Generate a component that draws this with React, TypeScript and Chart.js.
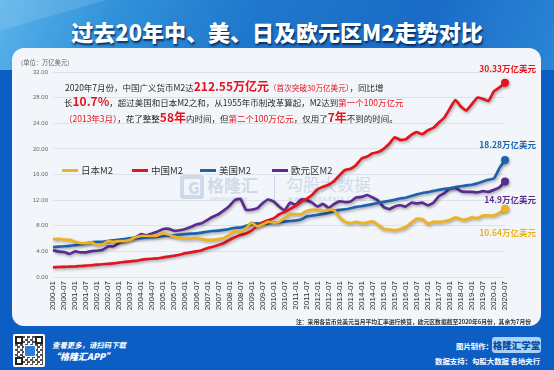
import React, { useEffect, useRef } from 'react';
import { Chart, registerables } from 'chart.js';

Chart.register(...registerables);

// ---------- data (quarterly, trillions of USD) ----------
const quarterMonths = ['01', '04', '07', '10'];
const categories: string[] = [];
for (let y = 2000; y <= 2020; y++) {
  for (const m of quarterMonths) {
    if (y === 2020 && m === '10') continue;
    categories.push(`${y}-${m}`);
  }
}

const seriesNames = ['日本M2', '中国M2', '美国M2', '欧元区M2'];

const japanM2 = [
  5.9, 5.95, 5.85, 5.8,
  5.5, 5.3, 5.3, 5.4,
  5.0, 5.1, 5.6, 5.5,
  5.6, 5.6, 5.8, 6.2,
  6.4, 6.4, 6.4, 6.5,
  6.8, 6.6, 6.3, 6.1,
  6.0, 6.0, 6.1, 5.9,
  5.8, 5.8, 5.9, 6.1,
  6.6, 7.2, 7.0, 7.6,
  8.5, 7.9, 8.2, 8.6,
  8.5, 8.6, 9.2, 9.8,
  9.8, 9.8, 10.3, 10.5,
  10.5, 10.3, 10.5, 10.4,
  9.3, 8.6, 8.4, 8.6,
  8.4, 8.5, 8.7, 8.1,
  7.5, 7.4, 7.3, 7.5,
  7.8, 8.5, 9.1, 9.0,
  8.3, 8.6, 8.6, 8.7,
  8.9, 9.3, 9.0, 9.0,
  9.3, 9.2, 9.6, 9.6,
  9.6, 10.0, 10.64,
];

const chinaM2 = [
  1.51, 1.56, 1.59, 1.61,
  1.64, 1.72, 1.78, 1.83,
  1.92, 1.99, 2.06, 2.14,
  2.24, 2.37, 2.45, 2.52,
  2.67, 2.78, 2.85, 2.91,
  3.07, 3.18, 3.32, 3.47,
  3.72, 3.85, 4.0, 4.18,
  4.5, 4.73, 5.0, 5.3,
  5.77, 6.2, 6.55, 6.8,
  7.25, 7.9, 8.5, 8.85,
  9.15, 9.75, 10.15, 10.6,
  11.1, 11.7, 12.2, 12.8,
  13.7, 14.1, 14.4, 15.0,
  15.9, 16.7, 16.9, 17.5,
  18.5, 18.8, 19.3, 19.5,
  20.0, 20.8, 21.8, 21.4,
  21.5, 22.2, 22.6, 22.3,
  22.9, 23.3, 24.1, 24.9,
  26.3, 27.6, 26.6, 26.0,
  27.0, 28.0, 27.8, 27.5,
  29.0, 29.6, 30.33,
];

const usM2 = [
  4.66, 4.73, 4.8, 4.87,
  4.96, 5.1, 5.25, 5.4,
  5.47, 5.5, 5.61, 5.73,
  5.82, 5.93, 6.06, 6.05,
  6.08, 6.19, 6.23, 6.31,
  6.42, 6.45, 6.52, 6.62,
  6.69, 6.76, 6.81, 6.93,
  7.07, 7.18, 7.24, 7.36,
  7.5, 7.68, 7.71, 7.98,
  8.25, 8.37, 8.34, 8.37,
  8.47, 8.54, 8.65, 8.74,
  8.81, 8.97, 9.44, 9.58,
  9.7, 9.85, 9.99, 10.29,
  10.47, 10.57, 10.74, 10.95,
  11.04, 11.21, 11.38, 11.58,
  11.73, 11.88, 12.06, 12.25,
  12.38, 12.65, 12.89, 13.12,
  13.25, 13.44, 13.59, 13.75,
  13.85, 14.02, 14.17, 14.3,
  14.4, 14.62, 14.92, 15.18,
  15.4, 17.0, 18.28,
];

const euroM2 = [
  4.2, 3.95, 3.9, 3.6,
  4.0, 3.85, 3.85, 4.05,
  4.1, 4.25, 4.75, 4.8,
  5.3, 5.55, 5.9, 6.2,
  6.7, 6.5, 6.8, 7.1,
  7.5, 7.5, 7.2, 7.3,
  7.5, 7.8, 8.2, 8.4,
  8.9, 9.4, 9.8, 10.4,
  11.1, 12.0, 12.2, 10.5,
  10.5, 10.7, 11.5, 12.1,
  11.8, 11.0, 10.4, 11.6,
  11.3, 12.1, 12.0, 11.6,
  11.0, 11.4, 10.8, 11.4,
  11.8, 11.7, 11.8, 12.4,
  12.5, 12.8, 12.4, 11.9,
  10.9, 10.6, 11.0, 11.2,
  11.0, 11.6, 11.5, 11.6,
  11.2, 11.6, 12.6, 13.1,
  13.8, 13.9, 13.4, 13.3,
  13.3, 13.2, 13.4, 13.3,
  13.6, 14.0, 14.9,
];

const endLabels = ['10.64万亿美元', '30.33万亿美元', '18.28万亿美元', '14.9万亿美元'];
const yTicks = { min: 0, max: 32, step: 4 };

const YELLOW = '#EDB21F';
const RED = '#E3141C';
const BLUE = '#1E62AC';
const PURPLE = '#5A2C8E';
const colors = [YELLOW, RED, BLUE, PURPLE];

const shadowPlugin = {
  id: 'lineShadow',
  beforeDatasetDraw(chart: any) {
    const c = chart.ctx;
    c.save();
    c.shadowColor = 'rgba(0,0,0,0.35)';
    c.shadowBlur = 3;
    c.shadowOffsetX = 1;
    c.shadowOffsetY = 1.5;
  },
  afterDatasetDraw(chart: any) {
    chart.ctx.restore();
  },
};

function ChartCanvas() {
  const ref = useRef<HTMLCanvasElement | null>(null);
  useEffect(() => {
    if (!ref.current) return;
    const all = [japanM2, chinaM2, usM2, euroM2];
    const chart = new Chart(ref.current, {
      type: 'line',
      data: {
        labels: categories,
        datasets: all.map((d, i) => ({
          label: seriesNames[i],
          data: d,
          borderColor: colors[i],
          backgroundColor: colors[i],
          pointBackgroundColor: colors[i],
          borderWidth: 2.7,
          pointBorderWidth: 0,
          pointRadius: (ctx: any) => (ctx.dataIndex === d.length - 1 ? 4 : 0),
          tension: 0.15,
          clip: false as any,
        })),
      },
      options: {
        animation: false,
        responsive: false,
        maintainAspectRatio: false,
        layout: { padding: { left: 23, right: 49, top: 72, bottom: 53 } },
        plugins: { legend: { display: false }, tooltip: { enabled: false } },
        scales: {
          x: {
            type: 'category',
            grid: { display: false, drawTicks: false },
            border: { display: false },
            ticks: {
              autoSkip: false,
              maxRotation: 90,
              minRotation: 90,
              padding: 4,
              color: '#2a2a2a',
              font: { size: 8, family: "'Liberation Sans', Arial, sans-serif" },
              callback: (_v: any, i: number) => {
                const l = categories[i];
                return l.endsWith('-01') || l.endsWith('-07') ? l : '';
              },
            },
            afterFit: (s: any) => {
              s.height = 40;
            },
          },
          y: {
            min: yTicks.min,
            max: yTicks.max,
            ticks: {
              stepSize: yTicks.step,
              padding: 5,
              color: '#666',
              font: { size: 6, family: "'Liberation Sans', Arial, sans-serif" },
              callback: (v: any) => Number(v).toFixed(2),
            },
            grid: { color: '#dbe2ea', drawTicks: false },
            border: { display: false },
            afterFit: (s: any) => {
              s.width = 30;
            },
          },
        },
      } as any,
      plugins: [shadowPlugin],
    });
    return () => chart.destroy();
  }, []);
  return (
    <canvas
      ref={ref}
      width={554}
      height={370}
      style={{ position: 'absolute', left: 0, top: 0, width: 554, height: 370, zIndex: 3 }}
    />
  );
}

const abs = (s: React.CSSProperties): React.CSSProperties => ({ position: 'absolute', whiteSpace: 'nowrap', ...s });

const dark = '#2a2a2a';
const big: React.CSSProperties = { color: RED, fontSize: 12, fontWeight: 700 };
const redS: React.CSSProperties = { color: RED };

export default function App() {
  const legendPos = [62, 132, 200, 272];
  return (
    <div
      style={{
        position: 'fixed',
        left: 0,
        top: 0,
        width: 554,
        height: 370,
        overflow: 'hidden',
        background: '#0d5ec4',
        fontFamily: "'Noto Sans CJK SC', 'Noto Sans', sans-serif",
      }}
    >
      {/* title band */}
      <div
        style={abs({
          left: 0,
          top: 0,
          width: 554,
          height: 70,
          background: 'linear-gradient(112deg, #5ab3ea 0%, #3292da 20%, #1f77cc 45%, #1a6cc6 75%, #2a86d6 100%)',
        })}
      />
      <div
        style={abs({
          left: -60,
          top: -20,
          width: 260,
          height: 30,
          background: 'rgba(255,255,255,0.12)',
          transform: 'rotate(-16deg)',
        })}
      />
      <div
        style={abs({
          left: 0,
          top: 16,
          width: 554,
          textAlign: 'center',
          color: '#fff',
          fontSize: 22,
          fontWeight: 900,
          lineHeight: '30px',
          textShadow: '1px 2px 2px rgba(0,30,80,0.85)',
        })}
      >
        过去20年中、美、日及欧元区M2走势对比
      </div>

      {/* panel */}
      <div
        style={abs({
          left: 12,
          top: 48,
          width: 529,
          height: 278,
          borderRadius: 12,
          background: '#f2f6fb',
        })}
      />

      {/* watermark */}
      <div
        style={abs({
          left: 180,
          top: 175,
          width: 24,
          height: 24,
          border: '4px solid rgba(140,165,200,0.35)',
          borderRadius: 3,
          boxSizing: 'border-box',
          zIndex: 1,
        })}
      />
      <div style={abs({ left: 188, top: 177, fontSize: 16, fontWeight: 900, color: 'rgba(140,165,200,0.35)', zIndex: 1, lineHeight: '20px' })}>G</div>
      <div style={abs({ left: 207, top: 175, fontSize: 17, fontWeight: 700, color: 'rgba(140,165,200,0.35)', zIndex: 1, lineHeight: '20px' })}>格隆汇</div>
      <div style={abs({ left: 210, top: 195, fontSize: 4, color: 'rgba(140,165,200,0.45)', zIndex: 1 })}>www.gelonghui.com</div>
      <div style={abs({ left: 274, top: 174, width: 1, height: 26, background: 'rgba(140,165,200,0.35)', zIndex: 1 })} />
      <div style={abs({ left: 286, top: 174, fontSize: 17, fontWeight: 400, color: 'rgba(140,165,200,0.35)', zIndex: 1, lineHeight: '20px', letterSpacing: 0 })}>勾股大数据</div>
      <div style={abs({ left: 288, top: 194, fontSize: 6, color: 'rgba(140,165,200,0.5)', zIndex: 1, letterSpacing: 1.2 })}>www.gugudata.com</div>

      <ChartCanvas />

      {/* unit */}
      <div style={abs({ left: 21, top: 58, fontSize: 6.3, color: '#666', zIndex: 4 })}>(单位：万亿美元)</div>

      {/* annotation */}
      <div style={abs({ left: 65, top: 78, fontSize: 8.5, color: dark, lineHeight: '16px', zIndex: 4 })}>
        2020年7月份，中国广义货币M2达<span style={big}>212.55万亿元</span>
        <span style={{ ...redS, fontSize: 7.6 }}>（首次突破30万亿美元）</span>，同比增
      </div>
      <div style={abs({ left: 64, top: 93, fontSize: 8.5, color: dark, lineHeight: '16px', zIndex: 4 })}>
        长<span style={big}>10.7%</span>，超过美国和日本M2之和，从1955年币制改革算起，M2达到<span style={redS}>第一个100万亿元</span>
      </div>
      <div style={abs({ left: 64, top: 109, fontSize: 8.5, color: dark, lineHeight: '16px', zIndex: 4 })}>
        <span style={redS}>（2013年3月）</span>，花了整整<span style={big}>58年</span>内时间，但<span style={redS}>第二个100万亿元</span>，仅用了
        <span style={big}>7年</span>不到的时间。
      </div>

      {/* legend */}
      {seriesNames.map((n, i) => (
        <div key={n} style={abs({ left: legendPos[i], top: 163, height: 14, display: 'flex', alignItems: 'center', zIndex: 4 })}>
          <span style={{ display: 'inline-block', width: 16, height: 3, background: colors[i], marginRight: 3 }} />
          <span style={{ fontSize: 9.5, color: '#333' }}>{n}</span>
        </div>
      ))}

      {/* end labels */}
      {endLabels.map((t, i) => {
        const tops = [226, 62, 138, 193];
        return (
          <div key={t} style={abs({ right: 18, top: tops[i], fontSize: 8.5, fontWeight: 700, color: colors[i], lineHeight: '12px', zIndex: 4 })}>
            {t}
          </div>
        );
      })}

      {/* note */}
      <div style={abs({ right: 23, top: 318, fontSize: 5.8, fontWeight: 700, color: '#333', lineHeight: '8px', zIndex: 4 })}>
        注：采用各货币兑美元当月平均汇率进行换算，欧元区数据截至2020年6月份，其余为7月份
      </div>

      {/* footer */}
      <div
        style={abs({
          left: 13,
          top: 334,
          width: 32,
          height: 33,
          background: '#fff',
          borderRadius: 2,
        })}
      />
      <div
        style={abs({
          left: 15,
          top: 336,
          width: 28,
          height: 29,
          background: 'repeating-conic-gradient(#333 0 25%, #fff 0 50%) 0 0/5px 5px',
          opacity: 0.85,
        })}
      />
      {[
        [15, 336],
        [35, 336],
        [15, 357],
      ].map(([l, t], i) => (
        <div key={i} style={abs({ left: l, top: t, width: 8, height: 8, border: '2px solid #222', background: '#fff', boxSizing: 'border-box' })} />
      ))}
      <div style={abs({ left: 24, top: 345, width: 10, height: 10, background: '#2b7de0', border: '1px solid #fff', borderRadius: 2 })} />
      <div style={abs({ left: 52, top: 340, fontSize: 7.4, fontStyle: 'italic', fontWeight: 700, color: '#fff', lineHeight: '10px' })}>查看更多，请扫码下载</div>
      <div style={abs({ left: 51, top: 351, fontSize: 9, fontStyle: 'italic', fontWeight: 900, color: '#fff', lineHeight: '12px' })}>“格隆汇APP”</div>
      <div style={abs({ left: 456, top: 341, fontSize: 7.4, fontWeight: 700, color: '#fff', lineHeight: '10px' })}>图片制作：</div>
      <div
        style={abs({
          left: 492,
          top: 337,
          width: 49,
          height: 16,
          borderRadius: 3,
          background: '#a9d4f5',
          color: '#0b4aa8',
          fontSize: 9.5,
          fontWeight: 900,
          lineHeight: '16px',
          textAlign: 'center',
        })}
      >
        格隆汇学堂
      </div>
      <div style={abs({ left: 435, top: 356, fontSize: 7.4, fontWeight: 700, color: '#fff', lineHeight: '10px' })}>数据支持：勾股大数据 各地央行</div>
    </div>
  );
}
